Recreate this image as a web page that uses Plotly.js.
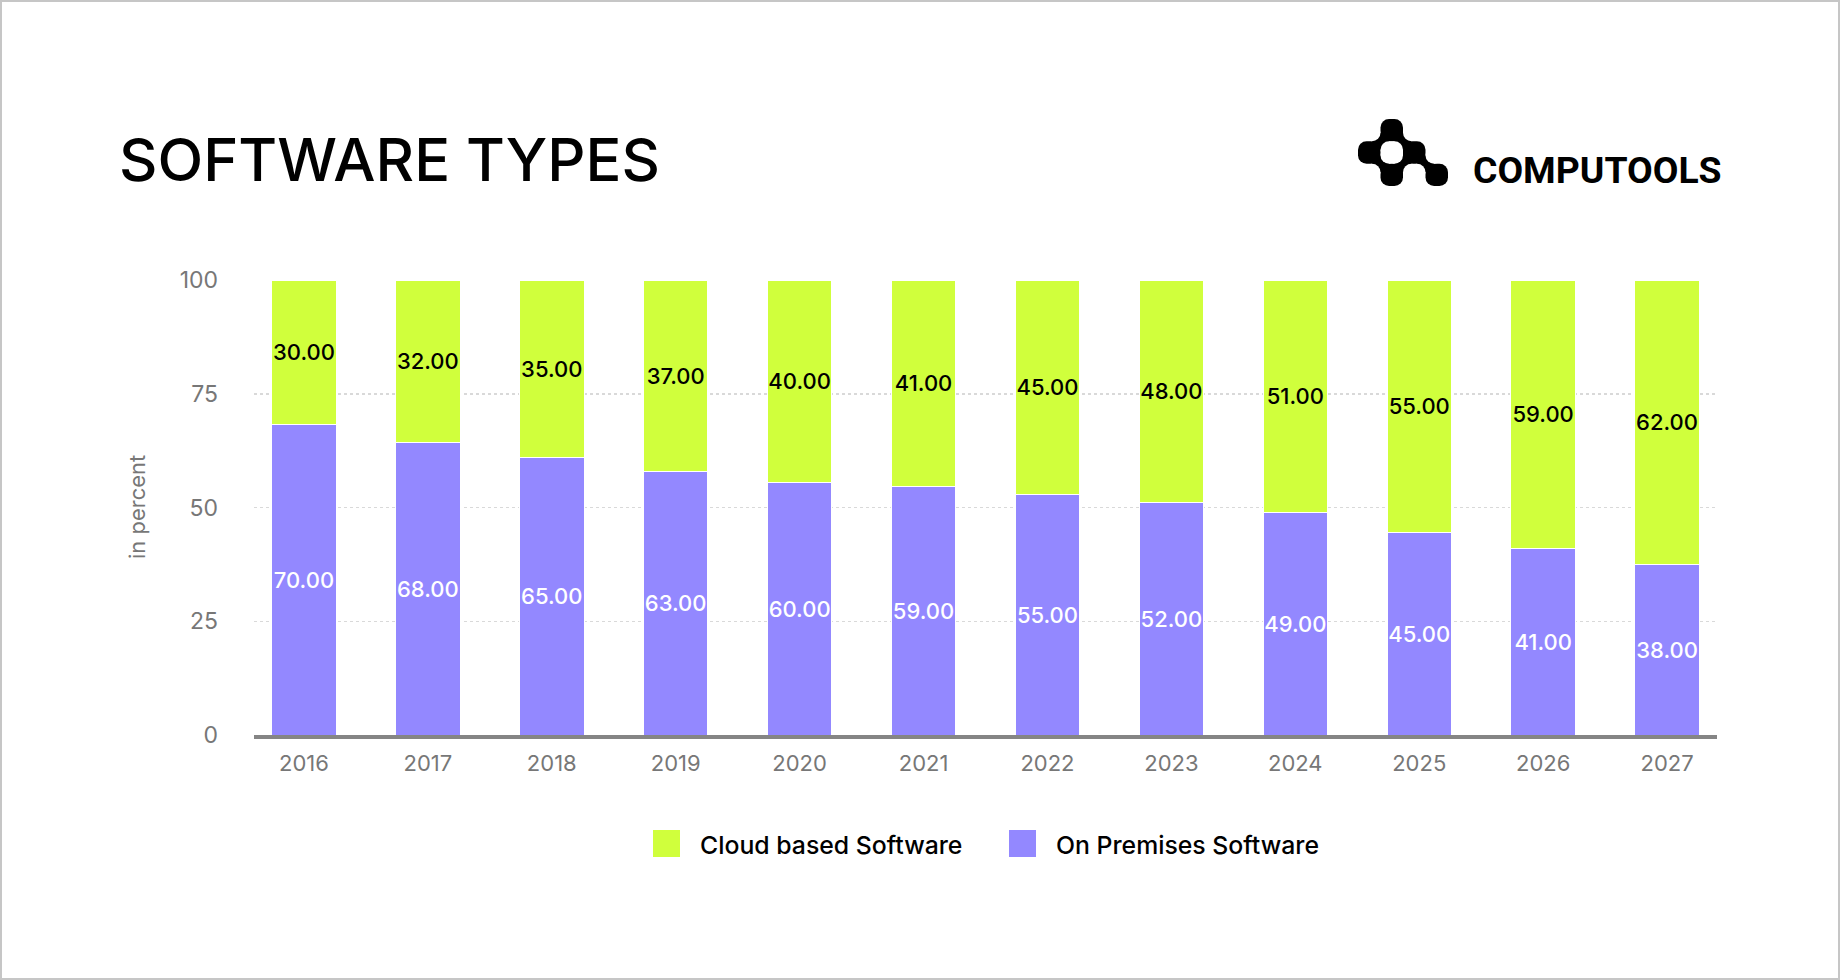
<!DOCTYPE html>
<html>
<head>
<meta charset="utf-8">
<script src="https://cdn.plot.ly/plotly-3.0.1.min.js"></script>
<style>
  html, body { margin: 0; padding: 0; background: #fff; }
  #wrap { position: relative; width: 1840px; height: 980px; }
  #chart { width: 1840px; height: 980px; }
  #frame { position: absolute; left: 0; top: 0; width: 1840px; height: 980px; box-sizing: border-box; border: 2px solid #c6c6c6; pointer-events: none; }
</style>
</head>
<body>
<div id="wrap"><div id="chart"></div><div id="frame"></div></div>
<script>
// ---- data ----
const years = ['2016','2017','2018','2019','2020','2021','2022','2023','2024','2025','2026','2027'];
// drawn bar heights (percent of the 0-100 axis)
const onPremHeight = [68.3, 64.3, 61.0, 58.0, 55.5, 54.7, 52.9, 51.1, 48.9, 44.5, 41.0, 37.5];
const cloudHeight  = [31.7, 35.7, 39.0, 42.0, 44.5, 45.3, 47.1, 48.9, 51.1, 55.5, 59.0, 62.5];
// value labels printed on the bars
const onPremLabel = [70, 68, 65, 63, 60, 59, 55, 52, 49, 45, 41, 38];
const cloudLabel  = [30, 32, 35, 37, 40, 41, 45, 48, 51, 55, 59, 62];
const seriesNames = ['Cloud based Software', 'On Premises Software'];
const yTicks = [0, 25, 50, 75, 100];

const GREEN = '#d0ff3c';
const PURPLE = '#9388ff';
const FONT = 'Inter, "Open Sans", sans-serif';

const traces = [
  {
    type: 'bar', name: seriesNames[1], x: years, y: onPremHeight,
    text: onPremLabel.map(v => v.toFixed(2)),
    textposition: 'inside', insidetextanchor: 'middle', textangle: 0, constraintext: 'none',
    insidetextfont: { family: FONT, size: 22, color: '#ffffff', weight: 500 },
    marker: { color: PURPLE, line: { color: '#ffffff', width: 1 } },
    width: 0.52, hoverinfo: 'skip', showlegend: false
  },
  {
    type: 'bar', name: seriesNames[0], x: years, y: cloudHeight,
    text: cloudLabel.map(v => v.toFixed(2)),
    textposition: 'inside', insidetextanchor: 'middle', textangle: 0, constraintext: 'none',
    insidetextfont: { family: FONT, size: 22, color: '#000000', weight: 500 },
    marker: { color: GREEN, line: { color: '#ffffff', width: 1 } },
    width: 0.52, hoverinfo: 'skip', showlegend: false
  }
];

const L = 254, R = 1717, T = 280, B = 735;
const PW = R - L, PH = B - T;
const px = x => (x - L) / PW;
const py = y => (B - y) / PH;

const logoSvg = (() => {
  const cells = [[1,0],[0,1],[2,1],[1,2],[3,2]];
  const juncs = [[1,1],[2,1],[1,2],[2,2],[3,2]];
  const r = 0.38;
  let s = '<svg xmlns="http://www.w3.org/2000/svg" viewBox="0 0 4 3" width="400" height="300">';
  cells.forEach(c => { s += `<rect x="${c[0]}" y="${c[1]}" width="1" height="1" rx="${r}" fill="#000"/>`; });
  juncs.forEach(j => { s += `<rect x="${j[0]-r}" y="${j[1]-r}" width="${2*r}" height="${2*r}" fill="#000"/>`; });
  // carve concave fillets in the empty cells around each junction
  const filled = new Set(cells.map(c => c.join(',')));
  juncs.forEach(j => {
    [[-1,-1],[0,-1],[-1,0],[0,0]].forEach(d => {
      const cx = j[0] + d[0], cy = j[1] + d[1];
      if (!filled.has(cx + ',' + cy)) {
        const ox = d[0] === 0 ? r : -r, oy = d[1] === 0 ? r : -r;
        s += `<circle cx="${j[0]+ox}" cy="${j[1]+oy}" r="${r}" fill="#fff"/>`;
      }
    });
  });
  s += '</svg>';
  return 'data:image/svg+xml;charset=utf-8,' + encodeURIComponent(s);
})();

const legendColors = [GREEN, PURPLE];
const legendBoxX = [653, 1009];
const legendTextX = [698, 1054];
const shapes = [], annotations = [];
seriesNames.forEach((n, i) => {
  shapes.push({ type: 'rect', xref: 'paper', yref: 'paper',
    x0: px(legendBoxX[i]), x1: px(legendBoxX[i] + 27), y0: py(830), y1: py(857),
    fillcolor: legendColors[i], line: { width: 0 } });
  annotations.push({ xref: 'paper', yref: 'paper', x: px(legendTextX[i]), y: py(845),
    xanchor: 'left', yanchor: 'middle', showarrow: false, text: n,
    font: { family: FONT, size: 24.8, color: '#000', weight: 500 } });
});
annotations.push({ xref: 'paper', yref: 'paper', x: px(137), y: py(507), textangle: -90,
  xanchor: 'center', yanchor: 'middle', showarrow: false, text: 'in percent',
  font: { family: FONT, size: 22, color: '#777777' } });
annotations.push({ xref: 'paper', yref: 'paper', x: px(1471), y: py(170),
  xanchor: 'left', yanchor: 'middle', showarrow: false, text: 'COMPUTOOLS',
  font: { family: 'Roboto, Inter, sans-serif', size: 37.3, color: '#000', weight: 700 } });

const layout = {
  width: 1840, height: 980,
  paper_bgcolor: '#ffffff', plot_bgcolor: '#ffffff',
  margin: { l: L, r: 1840 - R, t: T, b: 980 - B, pad: 0 },
  barmode: 'stack',
  showlegend: false,
  title: { text: 'SOFTWARE TYPES', xref: 'container', yref: 'container',
    x: 119 / 1840, xanchor: 'left', y: 1 - 160 / 980, yanchor: 'middle',
    font: { family: FONT, size: 59.6, color: '#000', weight: 500 } },
  xaxis: { type: 'category', range: [-0.403, 11.403], showgrid: false, zeroline: false,
    showline: true, linecolor: '#858585', linewidth: 4, ticks: '',
    ticklabelstandoff: 6,
    tickfont: { family: FONT, size: 22, color: '#777777' } },
  yaxis: { range: [0, 100], tickvals: yTicks, ticktext: yTicks.map(String),
    showgrid: true, gridcolor: '#d9d9d9', gridwidth: 1.5, griddash: 'dot',
    zeroline: false, showline: false, ticks: '', ticklabelstandoff: 35,
    tickfont: { family: FONT, size: 23, color: '#777777' } },
  images: [{ source: logoSvg, xref: 'paper', yref: 'paper', x: px(1358), y: py(119),
    sizex: 90 / PW, sizey: 67 / PH, sizing: 'stretch', xanchor: 'left', yanchor: 'top', layer: 'above' }],
  shapes: shapes,
  annotations: annotations
};

Plotly.newPlot('chart', traces, layout, { displayModeBar: false, staticPlot: true });
</script>
</body>
</html>
